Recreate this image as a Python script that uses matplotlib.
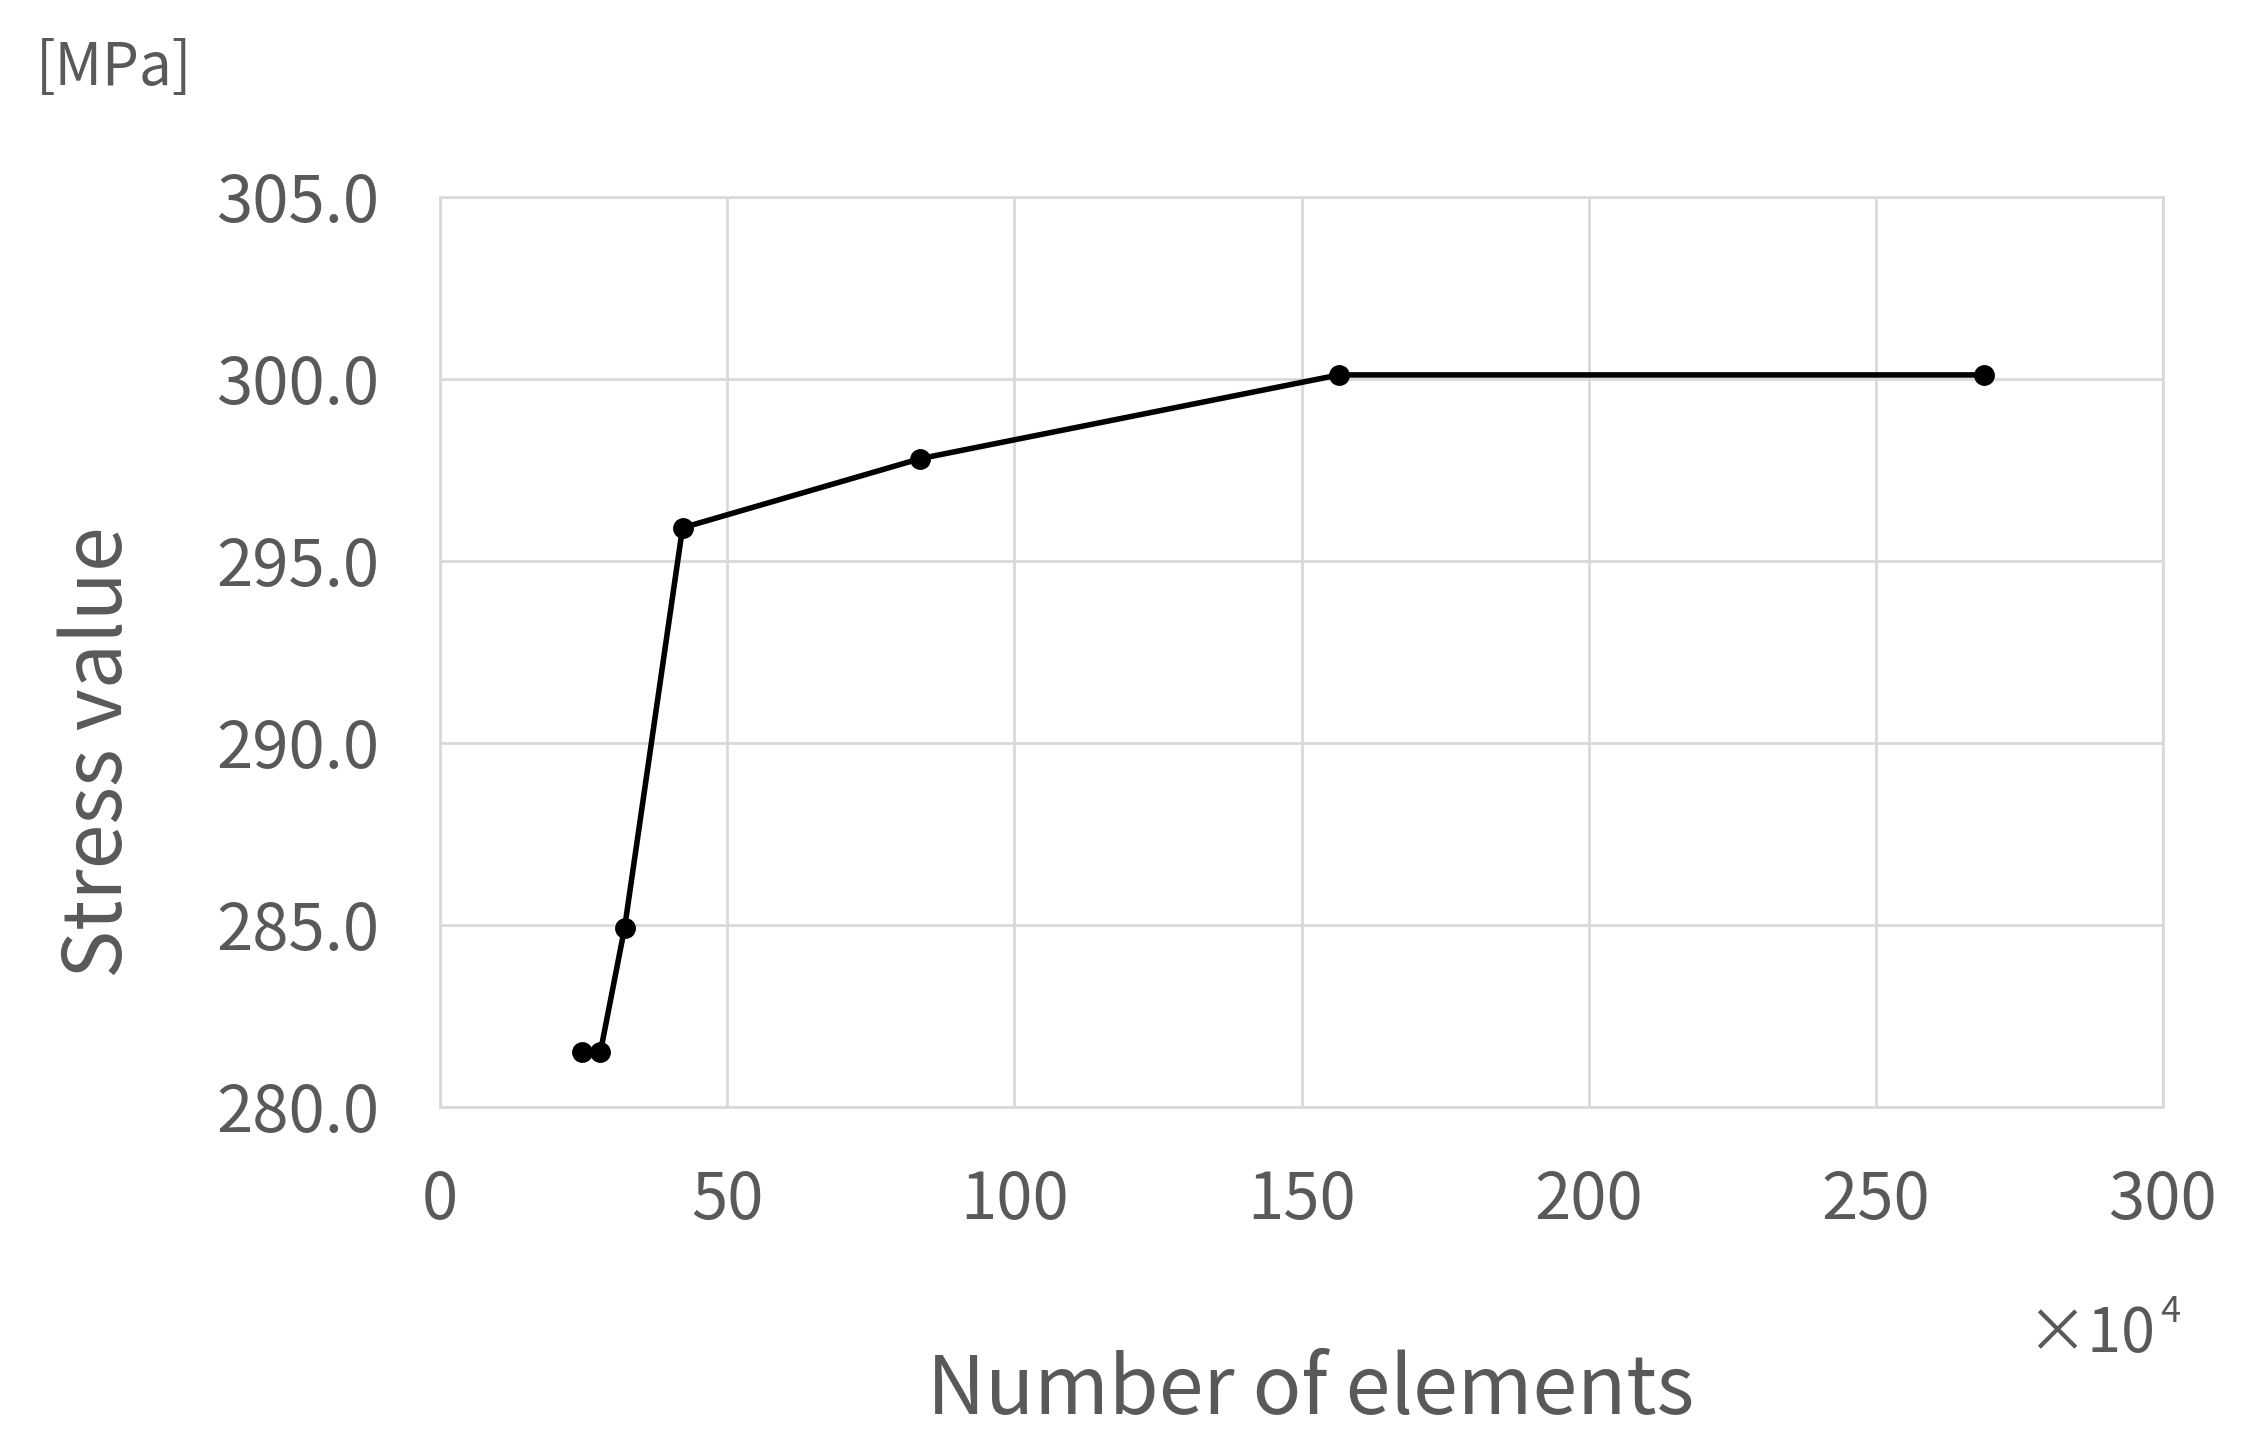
import matplotlib
matplotlib.use('Agg')
import matplotlib.pyplot as plt
from matplotlib.ticker import FormatStrFormatter

plt.rcParams['font.family'] = ['Noto Sans CJK JP', 'DejaVu Sans']

# Data (number of elements in units of 10^4, stress in MPa)
n_elements = [24.7, 27.9, 32.1, 42.2, 83.6, 156.5, 268.8]
stress_values = [281.5, 281.5, 284.9, 295.9, 297.8, 300.1, 300.1]
x_ticks = [0, 50, 100, 150, 200, 250, 300]
y_ticks = [280, 285, 290, 295, 300, 305]

text_color = '#595959'
grid_color = '#d9d9d9'

fig = plt.figure(figsize=(11.23, 7.28), dpi=200)
ax = fig.add_axes([0.196, 0.240, 0.767, 0.625])

ax.plot(n_elements, stress_values, color='black', linewidth=2.0,
        marker='o', markersize=6.5, zorder=3)

ax.set_xlim(0, 300)
ax.set_ylim(280, 305)
ax.set_xticks(x_ticks)
ax.set_yticks(y_ticks)
ax.yaxis.set_major_formatter(FormatStrFormatter('%.1f'))
ax.grid(True, color=grid_color, linewidth=1.0)
ax.set_axisbelow(True)
for spine in ax.spines.values():
    spine.set_color(grid_color)
    spine.set_linewidth(1.0)
ax.tick_params(length=0, labelsize=23.5, labelcolor=text_color, pad=22)

ax.set_xlabel('Number of elements', fontsize=29, color=text_color, va='center')
ax.xaxis.set_label_coords(0.505, -0.312)
ax.set_ylabel('Stress value', fontsize=29, color=text_color, va='center')
ax.yaxis.set_label_coords(-0.198, 0.389)

# unit label and axis multiplier
fig.text(0.016, 0.953, '[MPa]', fontsize=21, color=text_color, ha='left', va='center')
fig.text(0.902, 0.083, '×10', fontsize=22, color=text_color, ha='left', va='center')
fig.text(0.962, 0.099, '4', fontsize=13, color=text_color, ha='left', va='center')

plt.savefig('out.png', dpi=200)
